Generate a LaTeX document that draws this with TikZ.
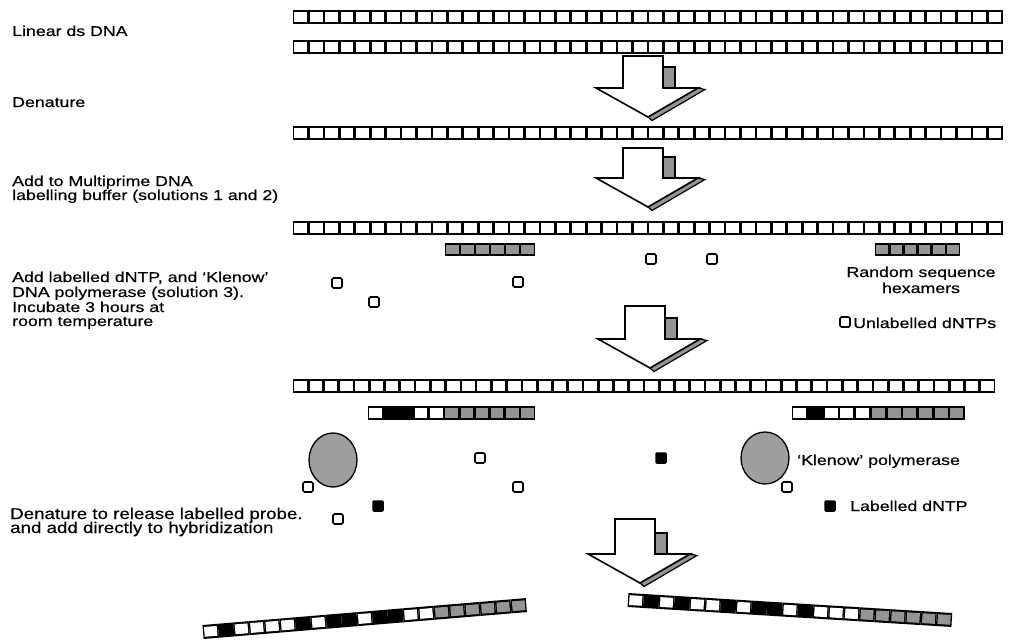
\documentclass[tikz,border=0pt]{standalone}
\usepackage{fontspec}
\setmainfont{Liberation Sans}
\newfontfamily\lbl[FakeStretch=1.25,FakeBold=0.6]{Liberation Sans}
\newfontfamily\lblb[FakeStretch=1.2,FakeBold=0.4]{Liberation Sans}
\definecolor{hexc}{gray}{0.58}
\definecolor{klc}{gray}{0.62}
\tikzset{
  labtext/.style={anchor=base west,inner sep=0pt,font=\lbl\fontsize{14.2}{14.5}\selectfont},
  labtextb/.style={anchor=base west,inner sep=0pt,font=\lblb\fontsize{15.6}{15}\selectfont},
  labtextc/.style={anchor=base,inner sep=0pt,font=\lbl\fontsize{14.2}{14.5}\selectfont},
  dntp/.style={draw=black,line width=1.6pt,rounded corners=1.5pt,fill=white},
  ldntp/.style={draw=black,line width=1.5pt,rounded corners=1pt,fill=black},
  klenow/.style={draw=black,line width=1.3pt,fill=klc},
  arrowbody/.style={draw=black,line width=1.6pt,fill=white,line join=miter},
  arrowshade/.style={draw=black,line width=1.2pt,fill=hexc}
}
% one cell: x, y(top), width, height, colour
\newcommand\onecell[5]{%
  \fill[black] (#1,#2) rectangle ++(#3,#4);
  \fill[#5] ({#1+1.35},{#2+2.1}) rectangle ++({#3-2.7},{#4-4.2});
}
% row of cells from a list: x, y(top), width, height, list of colours
\newcommand\cellrow[5]{%
  \foreach \cc [count=\ii from 0] in {#5} {\onecell{#1+\ii*#3}{#2}{#3}{#4}{\cc}}%
}
% open strand: x, y, width, n-1
\newcommand\openrow[4]{%
  \foreach \ii in {0,...,#4} {\onecell{#1+\ii*#3}{#2}{#3}{14}{white}}%
}
% block arrow: shaft left x, shaft top y, shaft length
\newcommand\blockarrow[3]{%
  \begin{scope}[shift={(#1,#2)}]
    \path[arrowshade] (25,{#3+29}) -- (75,#3) -- (82,{#3+1.5}) -- (29,{#3+32.5}) -- cycle;
    \path[arrowshade] (40,{#3-21}) rectangle (52,#3);
    \path[arrowbody] (0,0) -- (40,0) -- (40,#3) -- (75,#3) -- (25,{#3+29}) -- (-27,#3) -- (0,#3) -- cycle;
  \end{scope}
}
\begin{document}
\begin{tikzpicture}[x=1pt,y=-1pt]
\useasboundingbox (0,0) rectangle (1012,642);
\fill[white] (0,0) rectangle (1012,642);

% ---- strands
\openrow{293}{10}{15.43}{45}
\openrow{293}{40}{15.43}{45}
\openrow{293}{126}{15.43}{45}
\openrow{293}{221}{15.43}{45}
\openrow{293}{379}{15.26}{45}

% ---- arrows
\blockarrow{623}{56}{32}
\blockarrow{623}{148}{30}
\blockarrow{625}{306}{33}
\blockarrow{615}{519}{35}

% ---- hexamers
\cellrow{445}{243}{15}{13}{hexc,hexc,hexc,hexc,hexc,hexc}
\cellrow{875}{243}{14.2}{13}{hexc,hexc,hexc,hexc,hexc,hexc}

% ---- extended primers
\cellrow{368}{406}{15.2}{14}{white,black,black,white,white,hexc,hexc,hexc,hexc,hexc,hexc}
\cellrow{792}{406}{15.7}{14}{white,black,white,white,white,hexc,hexc,hexc,hexc,hexc,hexc}

% ---- free dNTPs (unlabelled)
\foreach \p in {(337,283),(374,302),(518,282),(651,259),(712,259),(845,322),
  (308,487),(338,519),(480,458),(518,487),(787,487)}
  {\path[dntp] \p ++(-5,-5) rectangle ++(10,10);}
% labelled dNTPs
\foreach \p in {(378,506),(661,458),(830,506)}
  {\path[ldntp] \p ++(-5,-5) rectangle ++(10,10);}

% ---- Klenow polymerase
\path[klenow] (333,460) ellipse [x radius=24, y radius=27];
\path[klenow] (765,458) ellipse [x radius=24, y radius=26];

% ---- bottom probes
\begin{scope}[shift={(203,632)},rotate=4.76]
  \cellrow{0}{-7}{15.45}{14}{white,black,white,white,white,white,black,white,black,black,white,black,black,white,white,hexc,hexc,hexc,hexc,hexc,hexc}
\end{scope}
\begin{scope}[shift={(628,600)},rotate=-3.53]
  \cellrow{0}{-7}{15.45}{14}{white,black,white,black,white,white,black,white,black,black,white,black,white,white,white,hexc,hexc,hexc,hexc,hexc,hexc}
\end{scope}

% ---- labels
\node[labtext] (t1) at (12,36) {Linear ds DNA};
\node[labtext] (t2) at (12,107) {Denature};
\node[labtext] (t3) at (12,186) {Add to Multiprime DNA};
\node[labtext] (t3b) at (12,200) {labelling buffer (solutions 1 and 2)};
\node[labtext] (t4) at (12,282) {Add labelled dNTP, and ‘Klenow’};
\node[labtext] (t4b) at (12,297) {DNA polymerase (solution 3).};
\node[labtext] (t4c) at (12,312) {Incubate 3 hours at};
\node[labtext] (t4d) at (12,326) {room temperature};
\node[labtextb] (t5) at (10,519) {Denature to release labelled probe.};
\node[labtextb] (t5b) at (10,533) {and add directly to hybridization};

\node[labtextc] (r1) at (921,277) {Random sequence};
\node[labtextc] (r2) at (921,293) {hexamers};
\node[labtext] (r3) at (853,328) {Unlabelled dNTPs};
\node[labtext] (r4) at (797,465) {‘Klenow’ polymerase};
\node[labtext] (r5) at (850,511) {Labelled dNTP};
\end{tikzpicture}
\end{document}
